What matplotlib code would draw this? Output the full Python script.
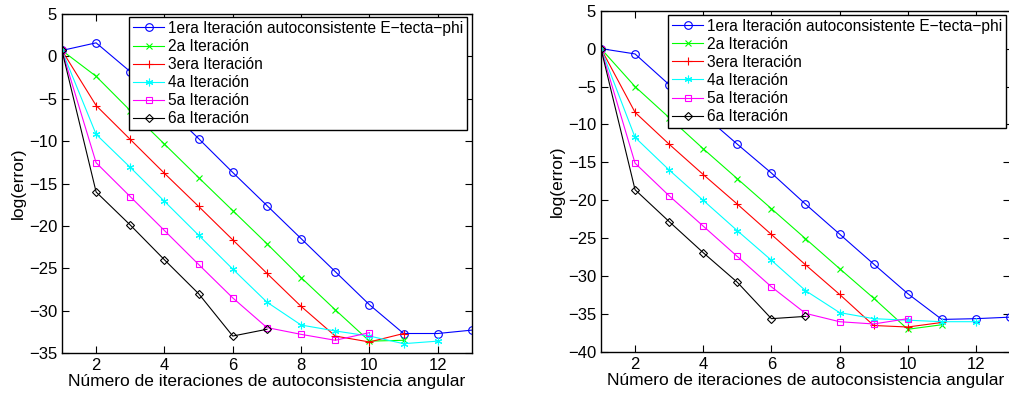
import numpy as np
import matplotlib
matplotlib.use('Agg')
import matplotlib.pyplot as plt

plt.rcParams['font.family'] = ['Liberation Sans', 'DejaVu Sans']

# etiquetas de la leyenda
labels = ['1era Iteración autoconsistente E\u2212tecta\u2212phi', '2a Iteración',
          '3era Iteración', '4a Iteración', '5a Iteración', '6a Iteración']

# datos panel izquierdo (log del error)
x1 = list(range(1, 14))
left_1 = [0.7, 1.6, -1.8, -5.8, -9.7, -13.7, -17.6, -21.5, -25.4, -29.3, -32.7, -32.7, -32.3]
x2 = list(range(1, 12))
left_2 = [0.7, -2.35, -6.4, -10.35, -14.3, -18.2, -22.1, -26.1, -29.9, -33.6, -33.5]
x3 = list(range(1, 12))
left_3 = [0.7, -5.8, -9.8, -13.8, -17.7, -21.65, -25.6, -29.5, -33.0, -33.7, -32.7]
x4 = list(range(1, 13))
left_4 = [0.7, -9.2, -13.1, -17.1, -21.1, -25.1, -29.0, -31.7, -32.4, -33.0, -33.9, -33.6]
x5 = list(range(1, 11))
left_5 = [0.7, -12.55, -16.55, -20.55, -24.55, -28.5, -32.0, -32.8, -33.5, -32.6]
x6 = list(range(1, 8))
left_6 = [0.7, -16.0, -19.9, -24.0, -28.0, -33.0, -32.2]

# datos panel derecho
right_1 = [0.0, -0.7, -4.75, -8.7, -12.6, -16.4, -20.5, -24.45, -28.4, -32.3, -35.7, -35.6, -35.4]
right_2 = [0.0, -5.0, -9.1, -13.2, -17.15, -21.1, -25.05, -29.0, -32.9, -37.0, -36.4]
right_3 = [0.0, -8.4, -12.6, -16.6, -20.5, -24.5, -28.5, -32.4, -36.5, -36.7, -36.1]
right_4 = [0.0, -11.7, -16.0, -20.0, -24.0, -27.9, -31.9, -34.8, -35.6, -35.8, -36.0, -36.0]
right_5 = [0.0, -15.1, -19.4, -23.4, -27.4, -31.4, -34.9, -36.0, -36.3, -35.6]
right_6 = [0.0, -18.6, -22.8, -26.9, -30.8, -35.6, -35.3]

xs = [x1, x2, x3, x4, x5, x6]
colors = ['#0000ff', '#00ff00', '#ff0000', '#00ffff', '#ff00ff', '#000000']
markers = ['o', 'x', '+', (6, 2, 0), 's', 'D']  # (6,2,0) = asterisco tipo matlab
msizes = [5.5, 4.5, 6, 5.5, 5, 4.5]


def panel(ax, ys, ylim, legend_anchor):
    for x, y, c, m, ms, lab in zip(xs, ys, colors, markers, msizes, labels):
        ax.plot(x, y, color=c, marker=m, markersize=ms, linewidth=0.8,
                markerfacecolor='none', markeredgecolor=c, markeredgewidth=0.8,
                label=lab)
    ax.set_xlim(1, 13)
    ax.set_ylim(ylim)
    ax.set_xticks(np.arange(2, 13, 2))
    ax.set_yticks(np.arange(ylim[0], ylim[1] + 1, 5))
    ax.tick_params(direction='in', top=True, right=True, labelsize=12,
                   length=5, width=0.8)
    for s in ax.spines.values():
        s.set_linewidth(1.0)
    ax.set_xlabel('Número de iteraciones de autoconsistencia angular',
                  fontsize=12.5, labelpad=1)
    ax.set_ylabel('log(error)', fontsize=12.5, labelpad=2)
    leg = ax.legend(loc='upper right', bbox_to_anchor=legend_anchor,
                    bbox_transform=ax.figure.transFigure, borderaxespad=0,
                    fontsize=11.2, fancybox=False, framealpha=1,
                    edgecolor='black', handlelength=2.0, handletextpad=0.2,
                    labelspacing=0.2, borderpad=0.25)
    leg.get_frame().set_linewidth(1.0)


fig = plt.figure(figsize=(10.09, 3.96), dpi=100)
ax1 = fig.add_axes([0.0614, 0.1086, 0.4063, 0.856])
ax2 = fig.add_axes([0.5956, 0.111, 0.4054, 0.862])

panel(ax1, [left_1, left_2, left_3, left_4, left_5, left_6], (-35, 5), (0.4625, 0.957))
panel(ax2, [right_1, right_2, right_3, right_4, right_5, right_6], (-40, 5), (0.9967, 0.963))

fig.savefig('out.png', dpi=100)
